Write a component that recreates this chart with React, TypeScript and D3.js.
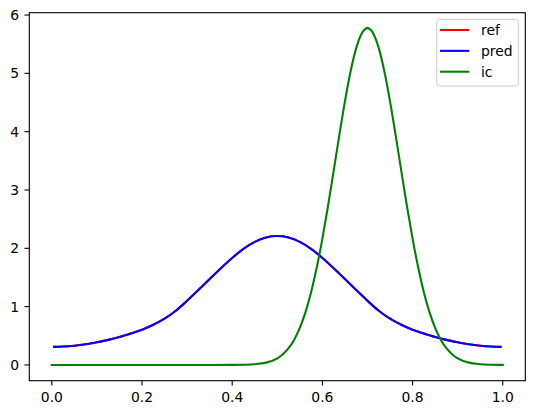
import React from "react";
import * as d3 from "d3";

// pred / ref samples (x, value)
const predX = [0.005, 0.025, 0.05, 0.075, 0.1, 0.125, 0.15, 0.175, 0.2, 0.225, 0.25, 0.275, 0.3, 0.325, 0.35, 0.375, 0.4, 0.425, 0.45, 0.475, 0.5, 0.525, 0.55, 0.575, 0.6, 0.625, 0.65, 0.675, 0.7, 0.725, 0.75, 0.775, 0.8, 0.825, 0.85, 0.875, 0.9, 0.925, 0.95, 0.975, 0.995];
const predY = [0.31, 0.315, 0.33, 0.355, 0.39, 0.43, 0.48, 0.54, 0.605, 0.69, 0.795, 0.93, 1.1, 1.285, 1.475, 1.66, 1.835, 1.99, 2.11, 2.185, 2.21, 2.185, 2.11, 1.99, 1.835, 1.66, 1.475, 1.285, 1.1, 0.93, 0.795, 0.69, 0.605, 0.54, 0.48, 0.43, 0.39, 0.355, 0.33, 0.315, 0.31];
const refY = [0.31, 0.315, 0.33, 0.355, 0.39, 0.43, 0.48, 0.54, 0.605, 0.69, 0.795, 0.93, 1.1, 1.285, 1.475, 1.66, 1.835, 1.99, 2.11, 2.185, 2.21, 2.185, 2.11, 1.99, 1.835, 1.66, 1.475, 1.285, 1.1, 0.93, 0.795, 0.69, 0.605, 0.54, 0.48, 0.43, 0.39, 0.355, 0.33, 0.315, 0.31];

// initial condition samples
const icX = [0, 0.05, 0.1, 0.15, 0.2, 0.25, 0.3, 0.35, 0.4, 0.425, 0.45, 0.475, 0.5, 0.5125, 0.525, 0.5375, 0.55, 0.5625, 0.575, 0.5875, 0.6, 0.6125, 0.625, 0.6375, 0.65, 0.6625, 0.675, 0.6875, 0.7, 0.7125, 0.725, 0.7375, 0.75, 0.7625, 0.775, 0.7875, 0.8, 0.8125, 0.825, 0.8375, 0.85, 0.8625, 0.875, 0.8875, 0.9, 0.925, 0.95, 0.975, 1.0];
const icY = [0, 0, 0, 0, 0, 0, 0, 0, 0.001, 0.004, 0.013, 0.04, 0.114, 0.184, 0.287, 0.434, 0.636, 0.905, 1.248, 1.67, 2.167, 2.726, 3.327, 3.937, 4.52, 5.031, 5.432, 5.687, 5.775, 5.687, 5.432, 5.031, 4.52, 3.937, 3.327, 2.726, 2.167, 1.67, 1.248, 0.905, 0.636, 0.434, 0.287, 0.184, 0.114, 0.04, 0.013, 0.004, 0.001];

const xTicks = [0, 0.2, 0.4, 0.6, 0.8, 1.0];
const yTicks = [0, 1, 2, 3, 4, 5, 6];
const legendItems = [
  { label: "ref", color: "#ff0000" },
  { label: "pred", color: "#0000ff" },
  { label: "ic", color: "#008000" },
];

export default function App() {
  const W = 534, H = 415;
  const L = 29.3, R = 525.3, T = 12.7, B = 380.7;
  const x = d3.scaleLinear().domain([-0.05, 1.05]).range([L, R]);
  const y = d3.scaleLinear().domain([-0.27, 6.04]).range([B, T]);
  const line = d3
    .line<[number, number]>()
    .x((d) => x(d[0]))
    .y((d) => y(d[1]))
    .curve(d3.curveMonotoneX);
  const refPath = line(predX.map((v, i) => [v, refY[i]]))!;
  const predPath = line(predX.map((v, i) => [v, predY[i]]))!;
  const icPath = line(icX.map((v, i) => [v, icY[i]]))!;
  const font = "'DejaVu Sans', sans-serif";
  const tl = 4.86;
  return (
    <svg
      width={W}
      height={H}
      style={{ position: "absolute", left: 0, top: 0, background: "#fff" }}
      fontFamily={font}
    >
      <rect x={0} y={0} width={W} height={H} fill="#fff" />
      <g fill="none" strokeWidth={2.08} strokeLinejoin="round" strokeLinecap="square">
        <path d={refPath} stroke="#ff0000" />
        <path d={predPath} stroke="#0000ff" />
        <path d={icPath} stroke="#008000" />
      </g>
      <rect x={L} y={T} width={R - L} height={B - T} fill="none" stroke="#000" strokeWidth={1.1} />
      {xTicks.map((t) => (
        <g key={"x" + t}>
          <line x1={x(t)} x2={x(t)} y1={B} y2={B + tl} stroke="#000" strokeWidth={1.1} />
          <text x={x(t)} y={402} textAnchor="middle" fontSize={13.9} fill="#000">
            {t.toFixed(1)}
          </text>
        </g>
      ))}
      {yTicks.map((t) => (
        <g key={"y" + t}>
          <line x1={L - tl} x2={L} y1={y(t)} y2={y(t)} stroke="#000" strokeWidth={1.1} />
          <text x={L - 2 * tl - 0.5} y={y(t)} dy="0.36em" textAnchor="end" fontSize={13.9} fill="#000">
            {t}
          </text>
        </g>
      ))}
      <rect x={436.7} y={19.3} width={81.6} height={66.7} rx={3} fill="#fff" fillOpacity={0.8} stroke="#cccccc" strokeWidth={1} />
      {legendItems.map((it, i) => {
        const yy = 30 + i * 20.85;
        return (
          <g key={it.label}>
            <line x1={440} x2={469.3} y1={yy} y2={yy} stroke={it.color} strokeWidth={2.08} />
            <text x={481} y={yy} dy="0.36em" fontSize={13.9} fill="#000">
              {it.label}
            </text>
          </g>
        );
      })}
    </svg>
  );
}
